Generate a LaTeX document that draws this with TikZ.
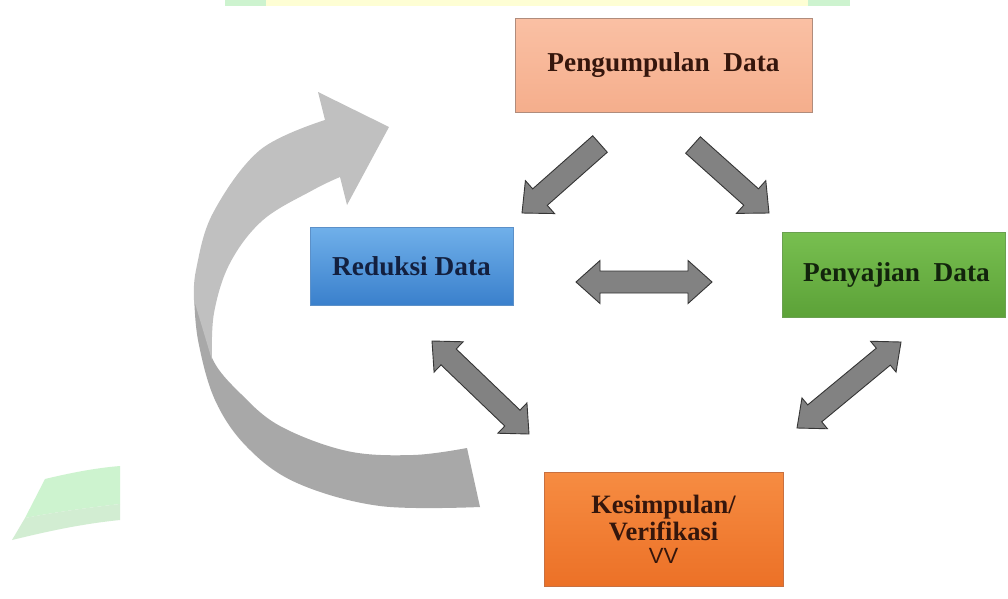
\documentclass[tikz,border=0pt]{standalone}
\usepackage{fontspec}
\setmainfont{Liberation Serif}
\newfontfamily\arialf{Liberation Sans}
\usetikzlibrary{calc}
\definecolor{salmonTop}{HTML}{FAC0A4}
\definecolor{salmonBot}{HTML}{F5AE8C}
\definecolor{salmonLine}{HTML}{B08C7C}
\definecolor{blueTop}{HTML}{70B0EA}
\definecolor{blueBot}{HTML}{3A80CC}
\definecolor{blueLine}{HTML}{5C90C8}
\definecolor{greenTop}{HTML}{78BF50}
\definecolor{greenBot}{HTML}{5CA238}
\definecolor{greenLine}{HTML}{6AA050}
\definecolor{orangeTop}{HTML}{F68C42}
\definecolor{orangeBot}{HTML}{EC7127}
\definecolor{orangeLine}{HTML}{C87040}
\definecolor{arrowFill}{HTML}{828282}
\definecolor{arrowLine}{HTML}{353535}
\definecolor{curveLight}{HTML}{C0C0C0}
\definecolor{curveDark}{HTML}{A8A8A8}
\definecolor{wmGreen}{HTML}{CDF3CF}
\definecolor{wmGreenB}{HTML}{D2EDD2}
\definecolor{wmYellow}{HTML}{FEFED4}
\definecolor{txtBrown}{HTML}{35160C}
\definecolor{txtNavy}{HTML}{13203F}
\definecolor{txtGreen}{HTML}{12240C}
\newcommand\singleblock[5]{%
  \coordinate (nk) at ($(#2)!#5!(#1)$);
  \filldraw[blockarrow] ($(#1)!#3!90:(#2)$) -- ($(nk)!#3!-90:(#1)$) -- ($(nk)!#4!-90:(#1)$) -- (#2)
    -- ($(nk)!#4!90:(#1)$) -- ($(nk)!#3!90:(#1)$) -- ($(#1)!#3!-90:(#2)$) -- cycle;}
\newcommand\doubleblock[5]{%
  \coordinate (na) at ($(#1)!#5!(#2)$);
  \coordinate (nb) at ($(#2)!#5!(#1)$);
  \filldraw[blockarrow] (#1) -- ($(na)!#4!90:(#2)$) -- ($(na)!#3!90:(#2)$) -- ($(nb)!#3!-90:(#1)$)
    -- ($(nb)!#4!-90:(#1)$) -- (#2) -- ($(nb)!#4!90:(#1)$) -- ($(nb)!#3!90:(#1)$)
    -- ($(na)!#3!-90:(#2)$) -- ($(na)!#4!-90:(#2)$) -- cycle;}
\begin{document}
\begin{tikzpicture}[x=1pt,y=-1pt,
  box/.style={inner sep=0pt, align=center, font=\bfseries\fontsize{27.3}{28}\selectfont, line width=0.7pt},
  blockarrow/.style={fill=arrowFill, draw=arrowLine, line width=0.9pt, line join=miter}]
\useasboundingbox (0,0) rectangle (1008,598);
\fill[white] (0,0) rectangle (1008,598);
% watermark pieces
\fill[wmGreen] (225,0) rectangle (266,6);
\fill[wmYellow] (266,0) rectangle (808,6);
\fill[wmGreen] (808,0) rectangle (850,6);
\fill[wmGreen] (45,479) .. controls (70,473) and (95,468) .. (120,466) -- (120,504) .. controls (85,508) and (50,513) .. (25,518) -- cycle;
\fill[wmGreenB] (25,518) .. controls (50,513) and (85,508) .. (120,504) -- (120,520) .. controls (80,524) and (45,532) .. (12,540) -- cycle;
% big curved arrow
\fill[curveDark] plot[smooth,tension=0.6] coordinates {(194,292) (198,340) (215,400) (247,447) (297,483) (380,506) (480,507)}
  -- (467,448) -- plot[smooth,tension=0.6] coordinates {(467,448) (413,455) (347,451) (280,426) (240,393) (213,360) (204,320)} -- cycle;
\fill[curveLight] plot[smooth,tension=0.6] coordinates {(212,360) (214,313) (230,263) (263,220) (313,190) (340,177)}
  -- (347,205) -- (389,127) -- (318,92) -- (325,120)
  -- plot[smooth,tension=0.6] coordinates {(325,120) (260,150) (213,213) (196,270) (194,300)} -- cycle;
% boxes
\node[box, minimum width=297pt, minimum height=94pt, draw=salmonLine, top color=salmonTop, bottom color=salmonBot, text=txtBrown]
  (peng) at (663.5,65) {Pengumpulan\ \ Data};
\node[box, minimum width=203pt, minimum height=78pt, draw=blueLine, top color=blueTop, bottom color=blueBot, text=txtNavy]
  (red) at (411.5,266) {Reduksi Data};
\node[box, minimum width=223pt, minimum height=85pt, draw=greenLine, top color=greenTop, bottom color=greenBot, text=txtGreen]
  (peny) at (893.5,274.5) {\hspace*{6pt}Penyajian\ \ Data};
\node[box, minimum width=239pt, minimum height=114pt, draw=orangeLine, top color=orangeTop, bottom color=orangeBot, text=txtBrown,
  font=\bfseries\fontsize{26.5}{27}\selectfont]
  (kes) at (663.5,529) {Kesimpulan/\\Verifikasi\\[-4pt]{\arialf\mdseries\fontsize{22}{22}\selectfont VV}};
% block arrow end points
\coordinate (a1s) at (600,144); \coordinate (a1e) at (522,213);
\coordinate (a2s) at (693,145); \coordinate (a2e) at (769,213);
\coordinate (a3s) at (576,282); \coordinate (a3e) at (712,282);
\coordinate (a4s) at (432,341); \coordinate (a4e) at (529,434);
\coordinate (a5s) at (797,428); \coordinate (a5e) at (901,342);
\singleblock{a1s}{a1e}{11pt}{22pt}{24pt}
\singleblock{a2s}{a2e}{11pt}{22pt}{24pt}
\doubleblock{a3s}{a3e}{11pt}{21.5pt}{24pt}
\doubleblock{a4s}{a4e}{11pt}{21pt}{23pt}
\doubleblock{a5s}{a5e}{11pt}{20pt}{23pt}
\end{tikzpicture}
\end{document}
